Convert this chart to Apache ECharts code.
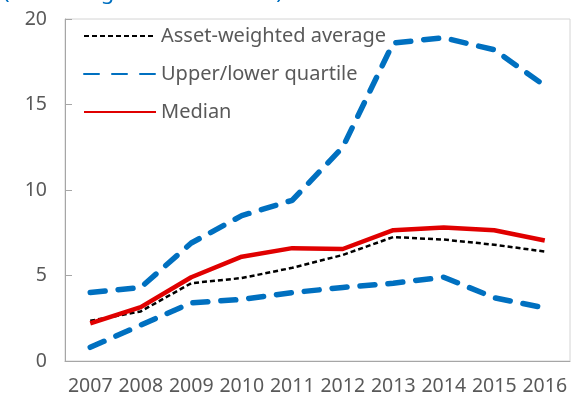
<!DOCTYPE html>
<html>
<head>
<meta charset="utf-8">
<script src="https://cdn.jsdelivr.net/npm/echarts@6/dist/echarts.min.js"></script>
<style>
  html, body { margin: 0; padding: 0; background: #fff; }
  #chart { width: 571px; height: 403px; }
</style>
</head>
<body>
<div id="chart"></div>
<script>
// 年份 (x 轴)
const years = ['2007', '2008', '2009', '2010', '2011', '2012', '2013', '2014', '2015', '2016']
// 各系列数值
const assetWeighted = [2.35, 2.9, 4.55, 4.85, 5.45, 6.2, 7.25, 7.1, 6.8, 6.4]
const upperQuartile = [4.0, 4.3, 6.9, 8.5, 9.4, 12.5, 18.6, 18.9, 18.2, 16.1]
const lowerQuartile = [0.8, 2.1, 3.4, 3.6, 4.0, 4.3, 4.55, 4.9, 3.7, 3.1]
const median = [2.2, 3.15, 4.9, 6.1, 6.6, 6.55, 7.65, 7.8, 7.65, 7.05]
// y 轴刻度
const yTicks = [0, 5, 10, 15, 20]

const gray = '#595959'
const blue = '#0070c0'
const red = '#e00000'
const font = 'Noto Sans'

const myChart = echarts.init(document.getElementById('chart'))
const opt = {
  animation: false,
  title: {
    // 上方被截掉的副标题
    text: '(Percentage of total assets)',
    left: -2,
    top: -23,
    textStyle: { color: blue, fontSize: 22, fontWeight: 'normal', fontFamily: font }
  },
  legend: {
    orient: 'vertical',
    left: 78,
    top: 21,
    itemWidth: 72,
    itemHeight: 14,
    itemGap: 18,
    // 图例里不要圆点
    itemStyle: { opacity: 0 },
    data: ['Asset-weighted average', 'Upper/lower quartile', 'Median'],
    textStyle: { color: gray, fontSize: 20, fontFamily: font }
  },
  grid: {
    show: true,
    left: 65,
    right: 1,
    top: 19,
    bottom: 42,
    borderColor: '#d4d4d4',
    borderWidth: 1
  },
  xAxis: {
    type: 'category',
    data: years,
    boundaryGap: true,
    axisLine: { lineStyle: { color: '#a6a6a6' } },
    axisTick: { inside: true, length: 7, interval: 0, lineStyle: { color: '#a6a6a6' } },
    axisLabel: { color: gray, fontSize: 19.5, fontFamily: font, margin: 15, interval: 0 }
  },
  yAxis: {
    type: 'value',
    min: yTicks[0],
    max: yTicks[yTicks.length - 1],
    interval: 5,
    splitLine: { show: false },
    axisLine: { show: true, lineStyle: { color: '#a6a6a6' } },
    axisTick: { show: true, inside: true, length: 7, lineStyle: { color: '#a6a6a6' } },
    axisLabel: { color: gray, fontSize: 19.5, fontFamily: font, margin: 18 }
  },
  series: [
    {
      name: 'Upper/lower quartile',
      type: 'line',
      symbol: 'none',
      data: upperQuartile,
      lineStyle: { color: blue, width: 5.5, type: [15, 13], cap: 'round' },
      itemStyle: { color: blue }
    },
    {
      name: 'Upper/lower quartile',
      type: 'line',
      symbol: 'none',
      data: lowerQuartile,
      lineStyle: { color: blue, width: 5.5, type: [15, 13], cap: 'round' },
      itemStyle: { color: blue }
    },
    {
      name: 'Asset-weighted average',
      type: 'line',
      symbol: 'none',
      data: assetWeighted,
      lineStyle: { color: '#000', width: 2.5, type: [5, 3] },
      itemStyle: { color: '#000' }
    },
    {
      name: 'Median',
      type: 'line',
      symbol: 'none',
      data: median,
      lineStyle: { color: red, width: 4.5 },
      itemStyle: { color: red }
    }
  ]
}
myChart.setOption(opt)
</script>
</body>
</html>
